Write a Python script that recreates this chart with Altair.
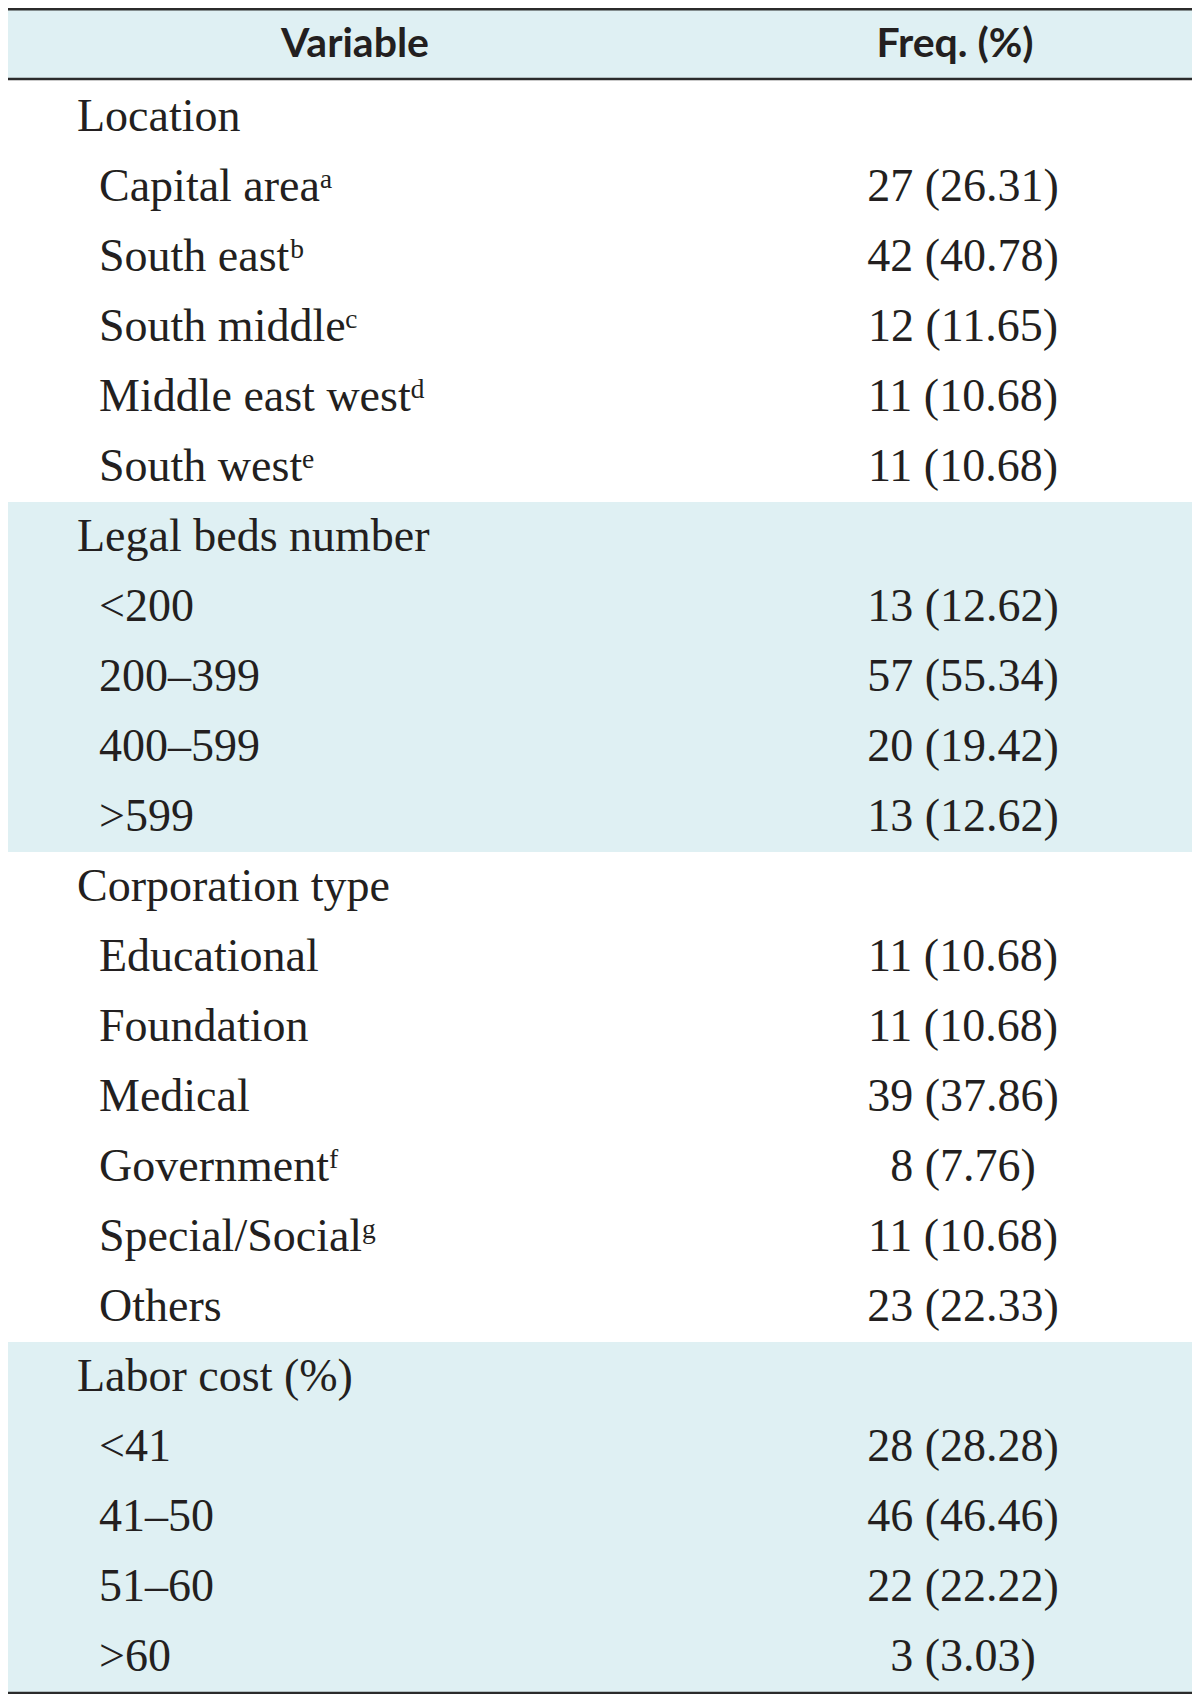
import altair as alt
import pandas as pd

# ---- table content ----
header = ["Variable", "Freq. (%)"]
groups = ["Location", "Legal beds number", "Corporation type", "Labor cost (%)"]
items = [
    ["Capital areaᵃ", "South eastᵇ", "South middleᶜ", "Middle east westᵈ", "South westᵉ"],
    ["<200", "200–399", "400–599", ">599"],
    ["Educational", "Foundation", "Medical", "Governmentᶠ", "Special/Socialᵍ", "Others"],
    ["<41", "41–50", "51–60", ">60"],
]
counts = [
    [27, 42, 12, 11, 11],
    [13, 57, 20, 13],
    [11, 11, 39, 8, 11, 23],
    [28, 46, 22, 3],
]
percents = [
    [26.31, 40.78, 11.65, 10.68, 10.68],
    [12.62, 55.34, 19.42, 12.62],
    [10.68, 10.68, 37.86, 7.76, 10.68, 22.33],
    [28.28, 46.46, 22.22, 3.03],
]
shaded_groups = [1, 3]

# ---- build tables ----
rows = []
bands = []
r = 0
for gi, g in enumerate(groups):
    start = r
    rows.append({"row": r, "label": g, "kind": "group", "freq": ""})
    r += 1
    for lab, n, p in zip(items[gi], counts[gi], percents[gi]):
        rows.append({"row": r, "label": lab, "kind": "item", "freq": f"{n} ({p:.2f})"})
        r += 1
    if gi in shaded_groups:
        bands.append({"y": start - 0.5, "y2": r - 0.5})
df = pd.DataFrame(rows)
last = r - 1

# header band in row units
bands.append({"y": -1.557, "y2": -0.557})
df_bands = pd.DataFrame(bands)
df_rules = pd.DataFrame({"y": [-1.539, -0.543, last + 0.514]})
df_head = pd.DataFrame({"row": [-1.03, -1.03], "label": header, "col": [0, 1]})

W, H = 1184, 1686
yscale = alt.Scale(domain=[0, last], range=[109, 109 + 70 * last])

INK = "#231f20"
BAND = "#dff0f3"
SERIF = "Liberation Serif, DejaVu Serif, serif"

band_layer = alt.Chart(df_bands).mark_rect(color=BAND).encode(
    y=alt.Y("y:Q", scale=yscale, axis=None),
    y2="y2:Q",
    x=alt.value(0),
    x2=alt.value(W),
)

rule_layer = alt.Chart(df_rules).mark_rule(color="#2b2b2b", strokeWidth=2.6).encode(
    y=alt.Y("y:Q", scale=yscale, axis=None),
    x=alt.value(0),
    x2=alt.value(W),
)

head_var = alt.Chart(df_head[df_head.col == 0]).mark_text(
    font="Lato", fontSize=41, fontWeight="bold", color=INK, align="center", baseline="middle"
).encode(y=alt.Y("row:Q", scale=yscale, axis=None), x=alt.value(347), text="label:N")

head_freq = alt.Chart(df_head[df_head.col == 1]).mark_text(
    font="Lato", fontSize=41, fontWeight="bold", color=INK, align="center", baseline="middle"
).encode(y=alt.Y("row:Q", scale=yscale, axis=None), x=alt.value(947), text="label:N")

group_text = alt.Chart(df[df.kind == "group"]).mark_text(
    font=SERIF, fontSize=46, color=INK, align="left", baseline="middle"
).encode(y=alt.Y("row:Q", scale=yscale, axis=None), x=alt.value(69), text="label:N")

item_text = alt.Chart(df[df.kind == "item"]).mark_text(
    font=SERIF, fontSize=46, color=INK, align="left", baseline="middle"
).encode(y=alt.Y("row:Q", scale=yscale, axis=None), x=alt.value(91), text="label:N")

freq_text = alt.Chart(df[df.kind == "item"]).mark_text(
    font=SERIF, fontSize=46, color=INK, align="center", baseline="middle"
).encode(y=alt.Y("row:Q", scale=yscale, axis=None), x=alt.value(955), text="freq:N")

chart = alt.layer(
    band_layer, rule_layer, head_var, head_freq, group_text, item_text, freq_text
).properties(
    width=W, height=H, autosize=alt.AutoSizeParams(type="none"), padding=0
).configure_view(strokeWidth=0)

chart.save("out.html", embed_options={"renderer": "svg", "actions": False})
